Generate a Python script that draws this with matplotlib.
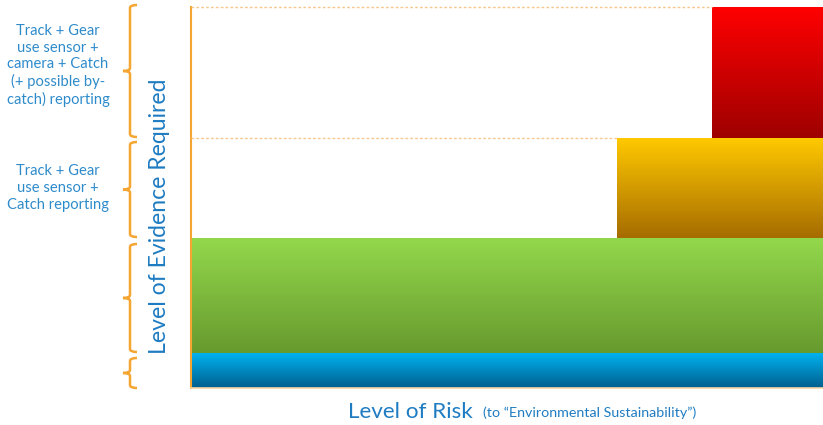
import numpy as np
import matplotlib
matplotlib.use("Agg")
import matplotlib.pyplot as plt
import matplotlib.transforms as mtransforms
from matplotlib.path import Path
from matplotlib.patches import PathPatch

# ---- data ----
band_names = ["Low", "Medium", "High", "Very high"]
band_bottom = [0, 35, 150, 250]          # level of evidence (lower edge)
band_top = [35, 150, 250, 381]           # level of evidence (upper edge)
band_risk_start = [0.0, 0.0, 0.674, 0.824]  # risk level where band starts
band_top_color = ["#00B2F0", "#93D84C", "#FFC900", "#FF0000"]
band_bottom_color = ["#005F8E", "#679A2E", "#A66C00", "#9E0000"]
band_labels = ["", "",
               "Track + Gear\nuse sensor +\nCatch reporting",
               "Track + Gear\nuse sensor +\ncamera + Catch\n(+ possible by-\ncatch) reporting"]

W, H = 823, 425
fig = plt.figure(figsize=(W / 100, H / 100), dpi=100)
ax = fig.add_axes([191 / W, (H - 388) / H, 632 / W, 381 / H])
ax.set_xlim(0, 1)
ax.set_ylim(0, 381)

def hex2rgb(h):
    h = h.lstrip("#")
    return np.array([int(h[i:i + 2], 16) / 255 for i in (0, 2, 4)])

for b0, b1, x0, ct, cb in zip(band_bottom, band_top, band_risk_start,
                              band_top_color, band_bottom_color):
    t = np.linspace(0, 1, 128)[:, None]
    grad = (1 - t) * hex2rgb(ct) + t * hex2rgb(cb)
    ax.imshow(grad[:, None, :], extent=[x0, 1, b0, b1], aspect="auto",
              origin="upper", interpolation="bilinear", zorder=2)

# dotted guide lines at tops of upper bands
for b1, x0 in zip(band_top[2:], band_risk_start[2:]):
    ax.plot([0, x0], [b1, b1], color="#F8C890", lw=1, ls=(0, (2, 1.5)),
            zorder=3, clip_on=False)

for s in ["top", "right"]:
    ax.spines[s].set_visible(False)
ax.spines["left"].set_color("#F5A532")
ax.spines["left"].set_linewidth(1.5)
ax.spines["bottom"].set_color("#F9D7A6")
ax.spines["bottom"].set_linewidth(1.2)
ax.set_xticks([])
ax.set_yticks([])

# braces
trans = mtransforms.blended_transform_factory(fig.transFigure, ax.transData)
px = 1 / W
xv, xe, xt = 130 * px, 137 * px, 123 * px
insets = [(0, -5), (1, -6), (1, -4), (1, 2)]
orange = "#F5A532"
for b0, b1, (g0, g1) in zip(band_bottom, band_top, insets):
    y0 = b0 + g0
    y1 = b1 + g1
    ym = (y0 + y1) / 2
    r = 3
    verts = [(xe, y0), (xv, y0), (xv, y0 + r),
             (xv, ym - r), (xv, ym), (xt, ym),
             (xv, ym), (xv, ym + r),
             (xv, y1 - r), (xv, y1), (xe, y1)]
    codes = [Path.MOVETO, Path.CURVE3, Path.CURVE3,
             Path.LINETO, Path.CURVE3, Path.CURVE3,
             Path.CURVE3, Path.CURVE3,
             Path.LINETO, Path.CURVE3, Path.CURVE3]
    ax.add_patch(PathPatch(Path(verts, codes), transform=trans, fill=False,
                           ec=orange, lw=1.8, clip_on=False))

txtc = "#2E8BCB"
label_shift = [0, 0, 0, 7]
for b0, b1, lab, sh in zip(band_bottom, band_top, band_labels, label_shift):
    if lab:
        ax.text(58 * px, (b0 + b1) / 2 + sh, lab, transform=trans,
                ha="center", va="center", fontsize=10.6, color=txtc,
                family="Lato", linespacing=1.23)

fig.text(160 / W, 1 - 216 / H, "Level of Evidence Required", rotation=90,
         ha="center", va="center", fontsize=16.6, color="#1F7CC2", family="Lato")

fig.text(348 / W, 1 - 412 / H, "Level of Risk", ha="left", va="center",
         fontsize=16.2, color="#1F7CC2", family="Lato")
fig.text(483 / W, 1 - 413 / H, "(to \u201cEnvironmental Sustainability\u201d)",
         ha="left", va="center", fontsize=10.3, color="#1F7CC2", family="Lato")

fig.savefig("out.png", dpi=100)
